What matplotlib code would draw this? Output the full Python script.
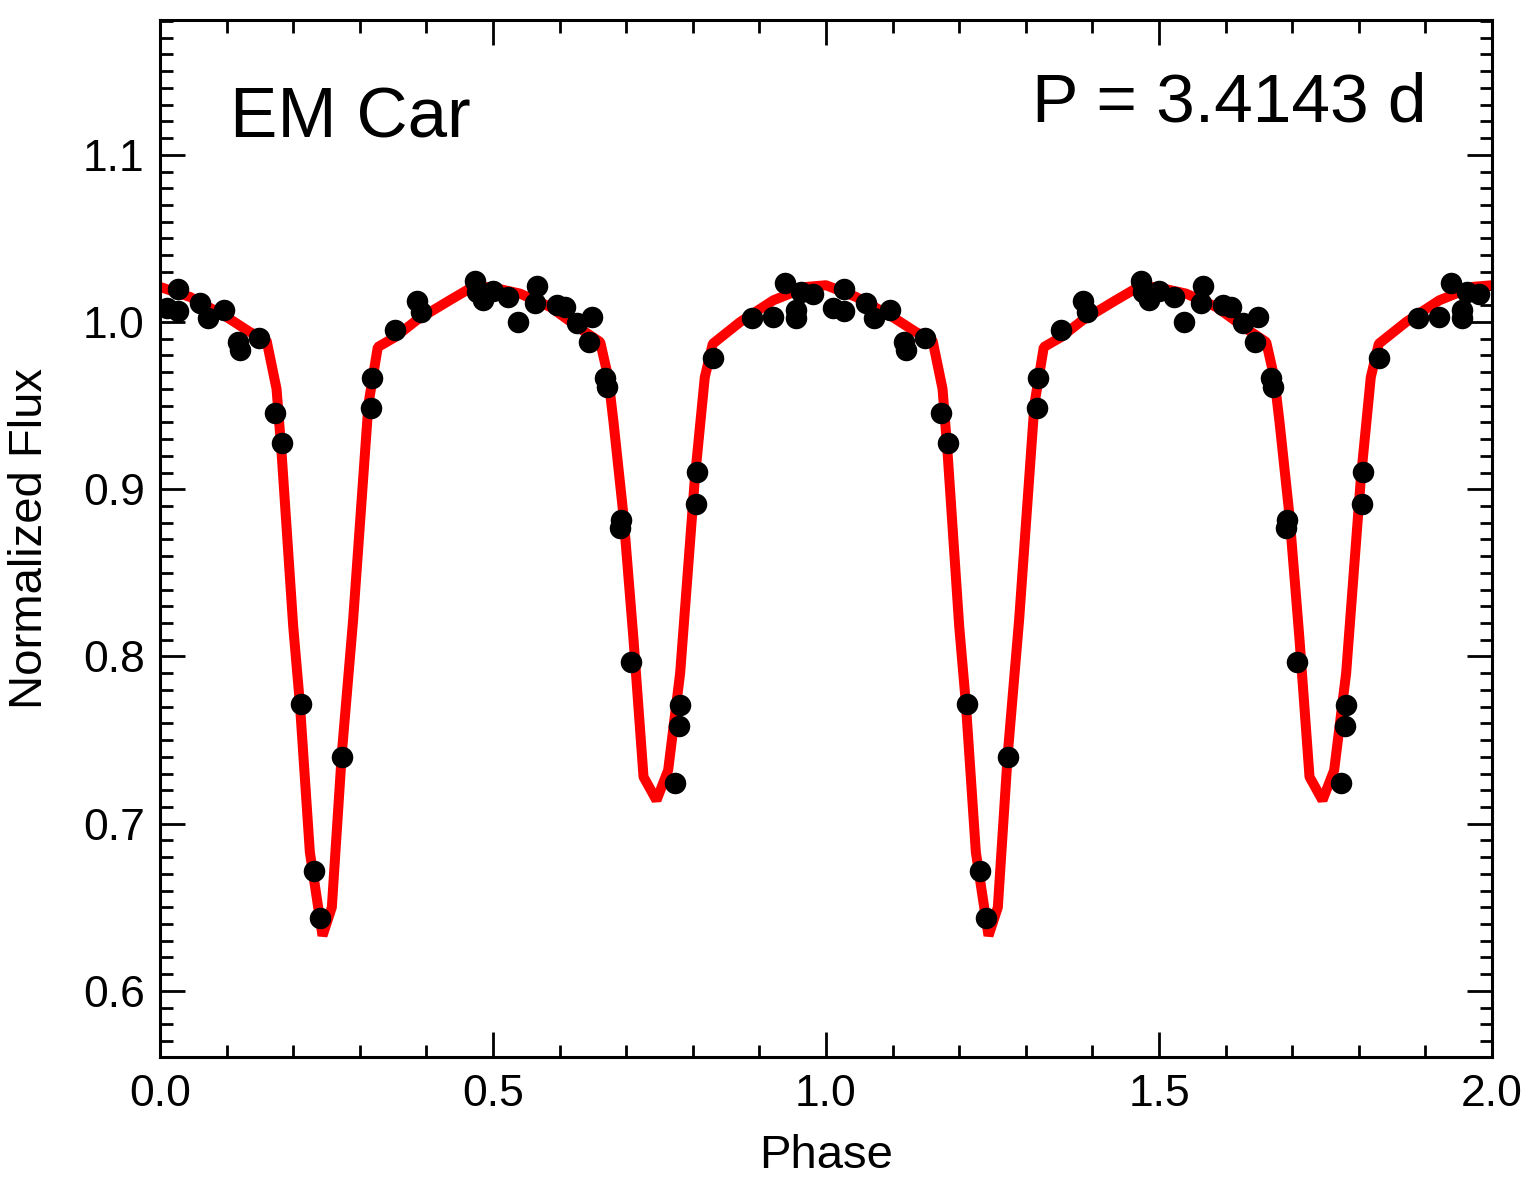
import matplotlib
matplotlib.use("Agg")
import matplotlib.pyplot as plt
import numpy as np
from matplotlib.ticker import MultipleLocator, FormatStrFormatter

plt.rcParams['font.family'] = ['Liberation Sans', 'DejaVu Sans']

# Observed points (phase 0-1), shown twice (phase and phase+1)
obs_phase = [0.010, 0.027, 0.027, 0.060, 0.0725, 0.096, 0.1176, 0.120, 0.1486,
             0.1727, 0.1827, 0.2117, 0.2317, 0.2402, 0.2728, 0.3163, 0.3189,
             0.3529, 0.3866, 0.3926, 0.4735, 0.4755, 0.4855, 0.5005, 0.523,
             0.538, 0.5631, 0.5666, 0.5956, 0.6081, 0.6256, 0.6446, 0.6479,
             0.668, 0.6705, 0.6907, 0.6922, 0.7066, 0.7733, 0.7793, 0.7808,
             0.8048, 0.8058, 0.8308, 0.8896, 0.9206, 0.9384, 0.9556, 0.9556,
             0.963, 0.981]
obs_flux = [1.0084, 1.0066, 1.0197, 1.0112, 1.0022, 1.0072, 0.9882, 0.9833, 0.9902,
            0.9454, 0.9275, 0.7714, 0.6715, 0.6436, 0.7401, 0.9484, 0.9663,
            0.9952, 1.0127, 1.0062, 1.0245, 1.0181, 1.0131, 1.0185, 1.0151,
            1.0002, 1.0115, 1.0215, 1.0102, 1.0092, 0.9992, 0.9882, 1.0032,
            0.9663, 0.9613, 0.8767, 0.8817, 0.7965, 0.7243, 0.7582, 0.7707,
            0.8913, 0.9102, 0.9782, 1.0022, 1.0032, 1.0231, 1.0072, 1.0022,
            1.018, 1.017]

# Model light curve vertices (phase 0-1)
model_phase = [0.000, 0.045, 0.100, 0.135, 0.160, 0.175, 0.1826, 0.200, 0.210,
               0.225, 0.244, 0.258, 0.273, 0.290, 0.313, 0.327, 0.353, 0.385,
               0.435, 0.465, 0.495, 0.5405, 0.586, 0.631, 0.661, 0.673, 0.681,
               0.696, 0.711, 0.726, 0.7455, 0.763, 0.781, 0.803, 0.818, 0.830,
               0.871, 0.921, 0.971, 1.000]
model_flux = [1.021, 1.015, 1.003, 0.994, 0.989, 0.960, 0.9215, 0.818, 0.772,
              0.683, 0.633, 0.650, 0.742, 0.822, 0.951, 0.985, 0.991, 1.001,
              1.013, 1.020, 1.021, 1.017, 1.009, 0.996, 0.988, 0.967, 0.940,
              0.884, 0.810, 0.728, 0.714, 0.732, 0.790, 0.906, 0.967, 0.987,
              1.000, 1.013, 1.021, 1.022]

obj_name = "EM Car"
period_text = "P = 3.4143 d"

op = np.array(obs_phase); of = np.array(obs_flux)
mp = np.array(model_phase); mf = np.array(model_flux)

fig = plt.figure(figsize=(15.4, 11.9), dpi=100)
ax = fig.add_axes([160/1540, 1 - 1057/1190, 1332/1540, 1037/1190])

ax.plot(np.concatenate([mp, mp[1:] + 1]), np.concatenate([mf, mf[1:]]),
        color='#ff0000', lw=7.2, solid_joinstyle='bevel', zorder=2)
ax.plot(np.concatenate([op, op + 1]), np.concatenate([of, of]), 'o',
        color='black', ms=15.5, mew=0, zorder=3)

ax.set_xlim(0, 2)
ax.set_ylim(0.5605, 1.1806)
ax.xaxis.set_major_locator(MultipleLocator(0.5))
ax.xaxis.set_minor_locator(MultipleLocator(0.1))
ax.yaxis.set_major_locator(MultipleLocator(0.1))
ax.yaxis.set_minor_locator(MultipleLocator(0.01))
ax.xaxis.set_major_formatter(FormatStrFormatter('%.1f'))
ax.yaxis.set_major_formatter(FormatStrFormatter('%.1f'))

for s in ax.spines.values():
    s.set_linewidth(2.2)
ax.tick_params(which='both', direction='in', top=True, right=True, width=2.0,
               labelsize=32)
ax.tick_params(which='major', length=18)
ax.tick_params(which='minor', length=9)
ax.tick_params(axis='x', which='major', pad=12)
ax.tick_params(axis='y', which='major', pad=11)

ax.set_xlabel('Phase', fontsize=34)
ax.set_ylabel('Normalized Flux', fontsize=34)
ax.xaxis.set_label_coords(0.5, -0.074)
ax.yaxis.set_label_coords(-0.081, 0.5)

ax.text(70/1332, (1057-138)/1037, obj_name, transform=ax.transAxes,
        fontsize=51, ha='left', va='baseline')
ax.text((1426-160)/1332, (1057-122)/1037, period_text, transform=ax.transAxes,
        fontsize=50, ha='right', va='baseline')

fig.savefig('out.png', dpi=100)
